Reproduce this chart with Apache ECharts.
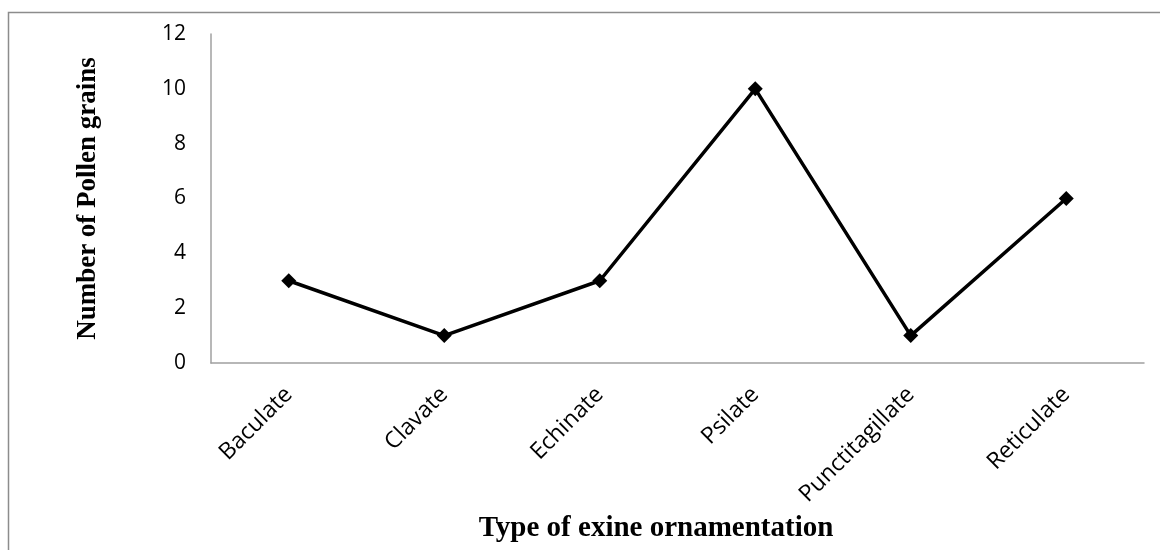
<!DOCTYPE html>
<html>
<head>
<meta charset="utf-8">
<script src="https://cdn.jsdelivr.net/npm/echarts@6/dist/echarts.min.js"></script>
<style>
  html, body { margin: 0; padding: 0; background: #fff; }
  #main { width: 1160px; height: 550px; }
</style>
</head>
<body>
<div id="main"></div>
<script>
// 数据
var categories = ["Baculate", "Clavate", "Echinate", "Psilate", "Punctitagillate", "Reticulate"];
var pollenCounts = [3, 1, 3, 10, 1, 6];
var yTicks = { min: 0, max: 12, interval: 2 };

var myChart = echarts.init(document.getElementById("main"));

myChart.setOption({
  backgroundColor: "#fff",
  animation: false,
  grid: { left: 211, right: 16, top: 34, bottom: 187 },
  graphic: [
    {
      // 外框
      type: "rect",
      shape: { x: 8.5, y: 12.5, width: 1200, height: 600 },
      style: { fill: "none", stroke: "#8c8c8c", lineWidth: 1.5 },
      silent: true
    }
  ],
  xAxis: {
    type: "category",
    data: categories,
    boundaryGap: true,
    axisLine: { lineStyle: { color: "#a0a0a0", width: 1.5 } },
    axisTick: { show: false },
    axisLabel: {
      rotate: 45,
      margin: 28,
      interval: 0,
      color: "#000",
      fontFamily: "Open Sans",
      fontSize: 23
    },
    name: "Type of exine ornamentation",
    nameLocation: "middle",
    nameGap: 150,
    nameTextStyle: {
      color: "#000",
      fontFamily: "Liberation Serif",
      fontWeight: "bold",
      fontSize: 29,
      padding: [0, 43, 0, 0]
    }
  },
  yAxis: {
    type: "value",
    min: yTicks.min,
    max: yTicks.max,
    interval: yTicks.interval,
    splitLine: { show: false },
    axisLine: { show: true, lineStyle: { color: "#a0a0a0", width: 1.5 } },
    axisTick: { show: false },
    axisLabel: {
      margin: 25,
      color: "#000",
      fontFamily: "Open Sans",
      fontSize: 21
    },
    name: "Number of Pollen grains",
    nameLocation: "middle",
    nameRotate: 90,
    nameGap: 109,
    nameTextStyle: {
      color: "#000",
      fontFamily: "Liberation Serif",
      fontWeight: "bold",
      fontSize: 27
    }
  },
  series: [
    {
      name: "Pollen grains",
      type: "line",
      data: pollenCounts,
      symbol: "diamond",
      symbolSize: 15,
      itemStyle: { color: "#000" },
      lineStyle: { color: "#000", width: 3.5 }
    }
  ]
});
</script>
</body>
</html>
